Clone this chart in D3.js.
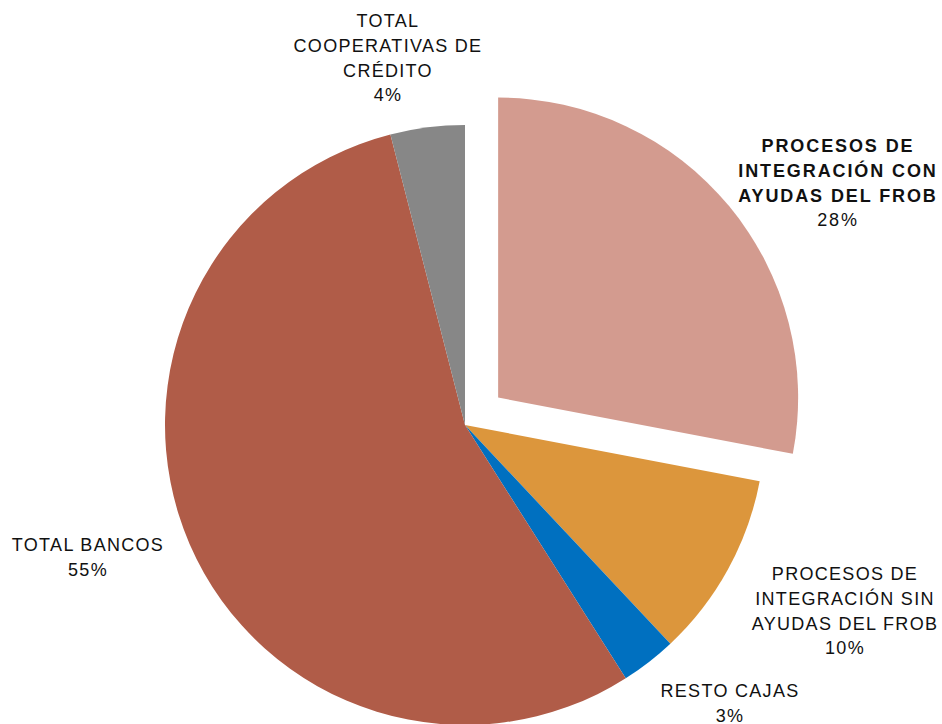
<!DOCTYPE html>
<html lang="es">
<head>
  <meta charset="UTF-8">
  <title>Distribución</title>
  <script src="https://d3js.org/d3.v7.min.js"></script>
  <style>
    body { margin: 0; background: #fff; }
    svg { display: block; }
    .lbl { font-family: "Liberation Sans", Arial, sans-serif; font-size: 18px; fill: #111; letter-spacing: 1.3px; }
    .lbl.bold { font-weight: bold; letter-spacing: 1.9px; }
  </style>
</head>
<body>
<script>
  // slices clockwise from 12 o'clock
  const names = [
    "PROCESOS DE INTEGRACIÓN CON AYUDAS DEL FROB",
    "PROCESOS DE INTEGRACIÓN SIN AYUDAS DEL FROB",
    "RESTO CAJAS",
    "TOTAL BANCOS",
    "TOTAL COOPERATIVAS DE CRÉDITO"
  ];
  const values = [28, 10, 3, 55, 4];
  const colors = ["#d39b8f", "#dc963c", "#0070c0", "#b05c48", "#878787"];
  // label lines as printed
  const labelLines = [
    ["PROCESOS DE", "INTEGRACIÓN CON", "AYUDAS DEL FROB", "28%"],
    ["PROCESOS DE", "INTEGRACIÓN SIN", "AYUDAS DEL FROB", "10%"],
    ["RESTO CAJAS", "3%"],
    ["TOTAL BANCOS", "55%"],
    ["TOTAL", "COOPERATIVAS DE", "CRÉDITO", "4%"]
  ];
  const labelPos = [[838, 147], [845, 575], [730, 692], [88, 546], [388, 22]];

  const width = 942, height = 724;
  const cx = 465, cy = 425, radius = 300, explode = 43;

  const svg = d3.select("body").append("svg")
    .attr("width", width)
    .attr("height", height);

  const pie = d3.pie().sort(null).value(d => d)(values);
  const arc = d3.arc().innerRadius(0).outerRadius(radius);

  const g = svg.append("g").attr("transform", `translate(${cx},${cy})`);

  g.selectAll("path")
    .data(pie)
    .join("path")
    .attr("d", arc)
    .attr("fill", (d, i) => colors[i])
    .attr("transform", (d, i) => {
      if (i !== 0) return null;
      const a = (d.startAngle + d.endAngle) / 2;
      return `translate(${Math.sin(a) * explode},${-Math.cos(a) * explode})`;
    });

  labelLines.forEach((lines, i) => {
    const t = svg.append("text")
      .attr("class", i === 0 ? "lbl bold" : "lbl")
      .attr("text-anchor", "middle")
      .attr("x", labelPos[i][0])
      .attr("y", labelPos[i][1])
      .attr("dominant-baseline", "middle");
    lines.forEach((s, j) => {
      t.append("tspan")
        .attr("x", labelPos[i][0])
        .attr("dy", j === 0 ? 0 : 24.8)
        .attr("font-weight", i === 0 && j === lines.length - 1 ? "normal" : null)
        .text(s);
    });
  });
</script>
</body>
</html>
